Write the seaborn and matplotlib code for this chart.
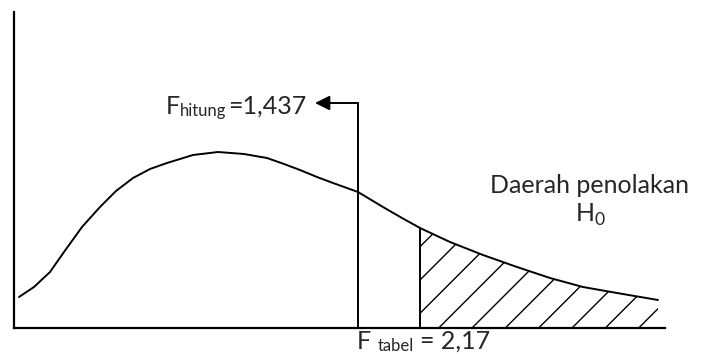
import matplotlib
matplotlib.use('Agg')
import matplotlib.pyplot as plt
import seaborn as sns
import numpy as np
import pandas as pd

sns.set_theme(style='white')
plt.rcParams['font.family'] = ['Lato', 'DejaVu Sans']
plt.rcParams['mathtext.fontset'] = 'custom'
plt.rcParams['mathtext.rm'] = 'Lato'
plt.rcParams['hatch.linewidth'] = 1.0

# F distribution sketch (diagram units, not to scale)
curve_x = [5, 20, 36, 50, 68, 86, 102, 119, 136, 153, 179, 204, 230, 253, 270,
           286, 303, 319, 344, 369, 388, 406, 436, 469, 503, 536, 569, 603, 644]
curve_y = [31, 41, 56, 76, 101, 121, 137, 150, 159, 165, 173, 176, 174, 170, 164,
           158, 151, 145, 136, 121, 110, 100, 86, 73, 61, 50, 41, 35, 28]

f_hitung_x = 344      # position of F hitung marker
f_hitung_top = 225    # height of the arrow bend
f_hitung_arrow_tip = 301
f_tabel_x = 406       # critical value position

hitung_parts = ['F', 'hitung', '=1,437']
tabel_parts = ['F', 'tabel', '= 2,17']
label_region = 'Daerah penolakan'
label_h0 = r'H$_{\mathregular{0}}$'

MAIN = 18
SUB = 12

df = pd.DataFrame({'x': curve_x, 'y': curve_y})

fig = plt.figure(figsize=(7.01, 3.54), dpi=100)
ax = fig.add_axes([14 / 701, 26 / 354, 651 / 701, 316 / 354])
ax.set_xlim(0, 651)
ax.set_ylim(0, 316)

sns.lineplot(data=df, x='x', y='y', ax=ax, color='black', linewidth=1.4)

# rejection region, hatched
tail = df[df['x'] >= f_tabel_x]
ax.fill_between(tail['x'], 0, tail['y'], facecolor='none', edgecolor='black',
                hatch='/', linewidth=0)
y_tabel = np.interp(f_tabel_x, curve_x, curve_y)
ax.plot([f_tabel_x, f_tabel_x], [0, y_tabel], color='black', linewidth=1.4)

# F hitung marker with arrow
ax.plot([f_hitung_x, f_hitung_x], [0, f_hitung_top], color='black', linewidth=1.4)
ax.annotate('', xy=(f_hitung_arrow_tip, f_hitung_top), xytext=(f_hitung_x, f_hitung_top),
            arrowprops=dict(arrowstyle='-|>', color='black', lw=1.4,
                            mutation_scale=22, shrinkA=0, shrinkB=0))


def subscript_label(x, y, parts, gaps):
    # main letter, smaller subscript, then the value, on one baseline
    base = ax.text(x, y, parts[0], fontsize=MAIN, ha='left', va='baseline', clip_on=False)
    sub = ax.annotate(parts[1], xy=(1, 0), xycoords=(base, base), xytext=(gaps[0], -0.5),
                      textcoords='offset points', fontsize=SUB, va='bottom', ha='left',
                      annotation_clip=False)
    ax.annotate(parts[2], xy=(1, 0), xycoords=(sub, base), xytext=(gaps[1], 0),
                textcoords='offset points', fontsize=MAIN, va='bottom', ha='left',
                annotation_clip=False)


subscript_label(152, 214, hitung_parts, (0, 1.5))
subscript_label(343, -21, tabel_parts, (4.5, 4.5))

ax.text(576, 135, label_region, fontsize=MAIN, ha='center', va='baseline')
ax.text(576, 106, label_h0, fontsize=MAIN, ha='center', va='baseline')

for side in ['top', 'right']:
    ax.spines[side].set_visible(False)
for side in ['left', 'bottom']:
    ax.spines[side].set_color('black')
    ax.spines[side].set_linewidth(1.6)
ax.set_xticks([])
ax.set_yticks([])
ax.set_xlabel('')
ax.set_ylabel('')

fig.savefig('out.png', dpi=100)
